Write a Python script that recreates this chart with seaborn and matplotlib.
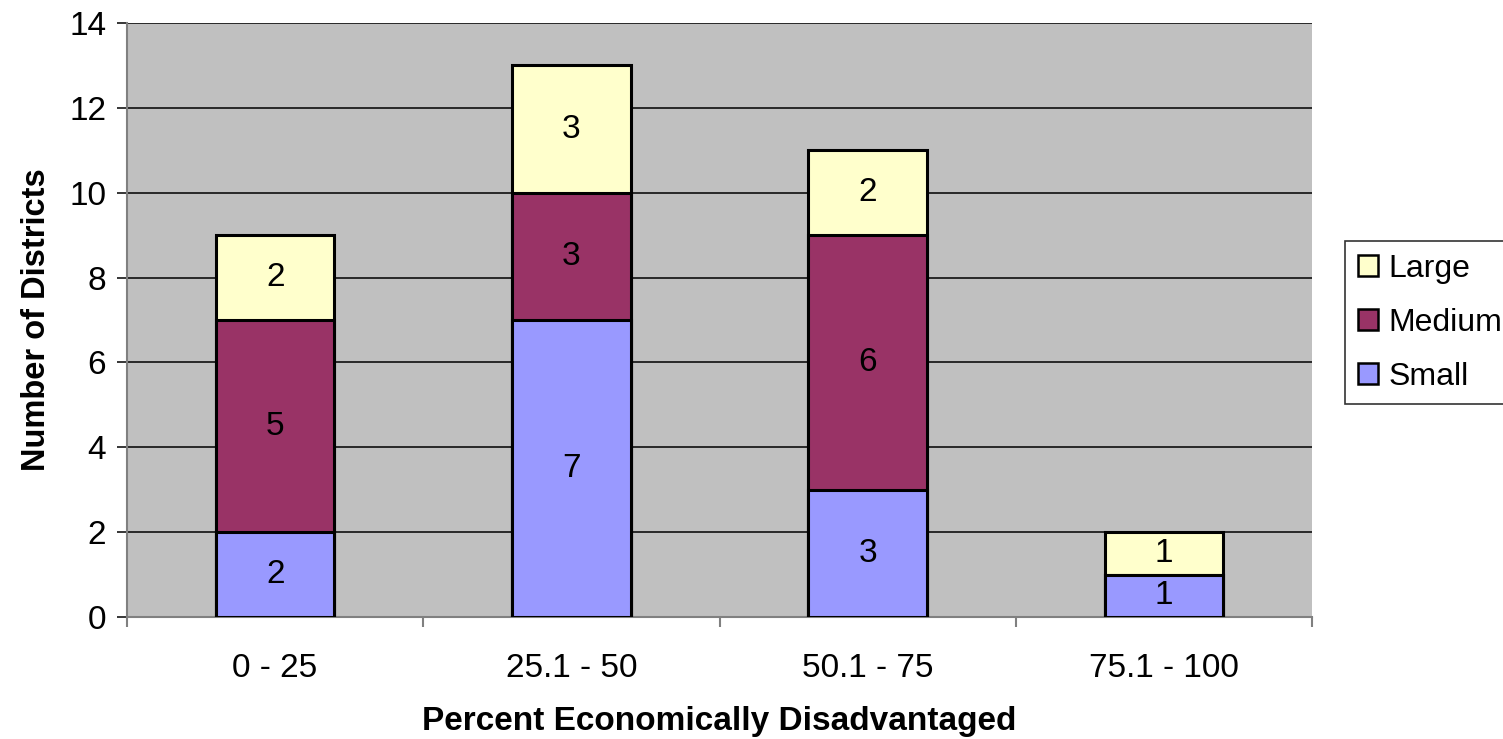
import numpy as np
import pandas as pd
import matplotlib
matplotlib.use("Agg")
import matplotlib.pyplot as plt
import seaborn as sns
from matplotlib.patches import Patch
from matplotlib.ticker import MultipleLocator, FixedLocator

sns.set_theme(style="white")
plt.rcParams['font.family'] = ['Liberation Sans', 'DejaVu Sans']
plt.rcParams['text.color'] = 'black'
plt.rcParams['axes.labelcolor'] = 'black'
plt.rcParams['xtick.color'] = 'black'
plt.rcParams['ytick.color'] = 'black'

# Districts by percent economically disadvantaged, split by district size
categories = ["0 - 25", "25.1 - 50", "50.1 - 75", "75.1 - 100"]
small = [2, 7, 3, 1]
medium = [5, 3, 6, 0]
large = [2, 3, 2, 1]

series_names = ["Small", "Medium", "Large"]
colors = {"Small": "#9999FF", "Medium": "#993366", "Large": "#FFFFCC"}

values = {"Small": np.array(small), "Medium": np.array(medium), "Large": np.array(large)}
tops = {}
running = np.zeros(len(categories))
for name in series_names:
    running = running + values[name]
    tops[name] = running.copy()

fig = plt.figure(figsize=(15.03, 7.39), dpi=100)
ax = fig.add_axes([127 / 1503, 1 - 617 / 739, (1312 - 127) / 1503, (617 - 23) / 739])
ax.set_facecolor("#C0C0C0")

# Stack by overlaying cumulative bars, tallest first
for name in reversed(series_names):
    df = pd.DataFrame({"category": categories, "top": tops[name]})
    sns.barplot(data=df, x="category", y="top", order=categories, color=colors[name],
                saturation=1, edgecolor="black", linewidth=2.2, width=0.4, ax=ax, zorder=3)

# Value labels centred in each segment
bottoms = np.zeros(len(categories))
for name in series_names:
    v = values[name]
    for i, val in enumerate(v):
        if val > 0:
            ax.text(i, bottoms[i] + val / 2, f"{val}", ha="center", va="center",
                    fontsize=24, color="black", zorder=5)
    bottoms = bottoms + v

ax.set_ylim(0, 14)
ax.set_xlim(-0.5, len(categories) - 0.5)
ax.yaxis.set_major_locator(MultipleLocator(2))
ax.grid(axis="y", color="black", linewidth=1.1, zorder=1)
ax.set_axisbelow(True)

for side in ["top", "right"]:
    ax.spines[side].set_visible(False)
for side in ["left", "bottom"]:
    ax.spines[side].set_color("#808080")
    ax.spines[side].set_linewidth(1.5)

ax.tick_params(axis="y", which="major", length=7, width=1.1, color="black",
               direction="out", left=True, pad=8, labelsize=24)
ax.xaxis.set_minor_locator(FixedLocator(np.arange(-0.5, len(categories), 1.0)))
ax.tick_params(axis="x", which="major", length=0, pad=26, labelsize=24)
ax.tick_params(axis="x", which="minor", length=7, width=1.5, color="#808080",
               direction="out", bottom=True)

ax.set_xlabel("Percent Economically Disadvantaged", fontsize=24, fontweight="bold", labelpad=16)
ax.set_ylabel("Number of Districts", fontsize=23.5, fontweight="bold", labelpad=12)

handles = [Patch(facecolor=colors[n], edgecolor="black", linewidth=1.8, label=n)
           for n in reversed(series_names)]
leg = fig.legend(handles=handles, loc="upper left", bbox_to_anchor=(1345 / 1503, 1 - 241 / 739),
                 fontsize=23, frameon=True, fancybox=False, handlelength=0.62, handleheight=0.62,
                 handletextpad=0.35, labelspacing=0.75, borderpad=0.4, borderaxespad=0)
leg.get_frame().set_edgecolor("black")
leg.get_frame().set_linewidth(1.2)

fig.savefig("out.png", dpi=100)
